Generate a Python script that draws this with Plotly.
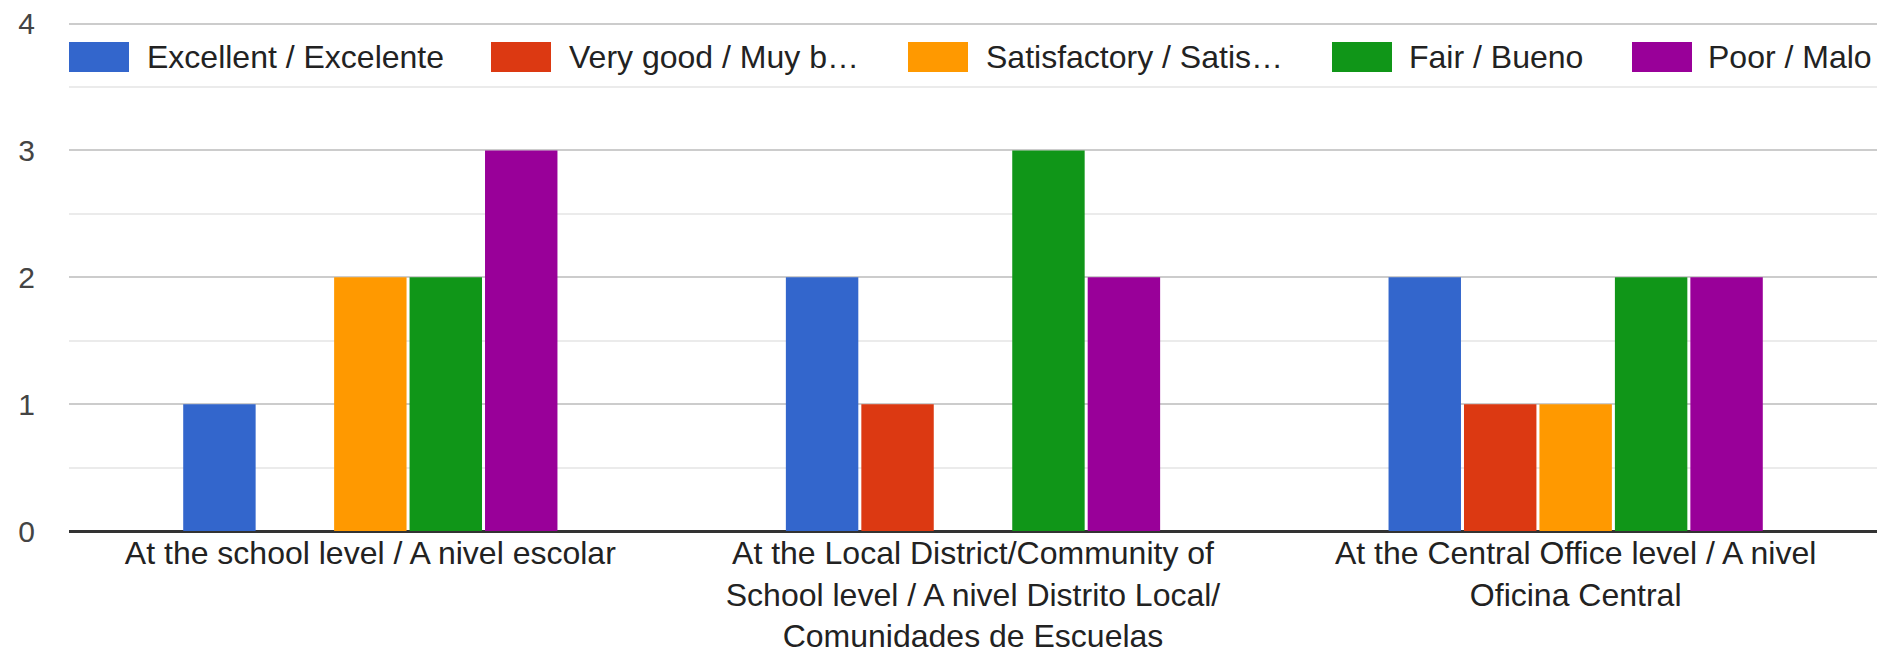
import plotly.graph_objects as go

categories = [
    "At the school level / A nivel escolar",
    "At the Local District/Community of<br>School level / A nivel Distrito Local/<br>Comunidades de Escuelas",
    "At the Central Office level / A nivel<br>Oficina Central",
]
series_names = [
    "Excellent / Excelente",
    "Very good / Muy b…",
    "Satisfactory / Satis…",
    "Fair / Bueno",
    "Poor / Malo",
]
excellent = [1, 2, 2]
very_good = [0, 1, 1]
satisfactory = [2, 0, 1]
fair = [2, 3, 2]
poor = [3, 2, 2]
series_values = [excellent, very_good, satisfactory, fair, poor]
y_ticks = [0, 1, 2, 3, 4]

colors = ["#3366cc", "#dc3912", "#ff9900", "#109618", "#990099"]
FONT = "Liberation Sans, Arial, sans-serif"

W, H = 1893, 656
OFF = 8  # page body margin
ML, MR, MT, MB = 61, 24, 13, 133
PW, PH = W - ML - MR, H - MT - MB

fig = go.Figure()
for name, vals, col in zip(series_names, series_values, colors):
    fig.add_trace(go.Bar(x=categories, y=vals, name=name, marker=dict(color=col, line=dict(width=0)),
                         showlegend=False))

# custom legend (swatch left edges and text starts in page pixels)
swatch_left = [69, 491, 908, 1332, 1632]
text_left = [145, 567, 984, 1407, 1706]
sw_w, sw_top, sw_bot, txt_y = 60, 42, 72, 57

def px_x(p):
    return (p - OFF - ML) / PW

def px_y(p):
    return (H - MB - (p - OFF)) / PH

for name, col, sl, tl in zip(series_names, colors, swatch_left, text_left):
    fig.add_shape(type="rect", xref="paper", yref="paper",
                  x0=px_x(sl), x1=px_x(sl + sw_w), y0=px_y(sw_bot), y1=px_y(sw_top),
                  fillcolor=col, line=dict(width=0), layer="above")
    fig.add_annotation(xref="paper", yref="paper", x=px_x(tl), y=px_y(txt_y),
                       xanchor="left", yanchor="middle", text=name, showarrow=False,
                       font=dict(family=FONT, size=32, color="#222222"))

fig.update_layout(
    width=W, height=H,
    margin=dict(l=ML, r=MR, t=MT, b=MB, pad=0, autoexpand=False),
    paper_bgcolor="white", plot_bgcolor="white",
    barmode="group", bargap=0.374, bargroupgap=0.04,
    font=dict(family=FONT, size=32, color="#222222"),
)
fig.update_xaxes(showgrid=False, ticks="", tickfont=dict(size=32, color="#222222"),
                 showline=False, zeroline=False, automargin=False)
fig.update_yaxes(range=[0, 4.02], tickvals=y_ticks, ticktext=[str(v) for v in y_ticks],
                 showgrid=True, gridcolor="#cccccc", gridwidth=2,
                 minor=dict(dtick=0.5, showgrid=True, gridcolor="#ebebeb", gridwidth=2),
                 zeroline=True, zerolinecolor="#333333", zerolinewidth=2.5,
                 ticks="", ticklabelstandoff=33, automargin=False,
                 ticklabeloverflow="allow",
                 tickfont=dict(size=30, color="#444444"))

fig.write_html("out.html")
